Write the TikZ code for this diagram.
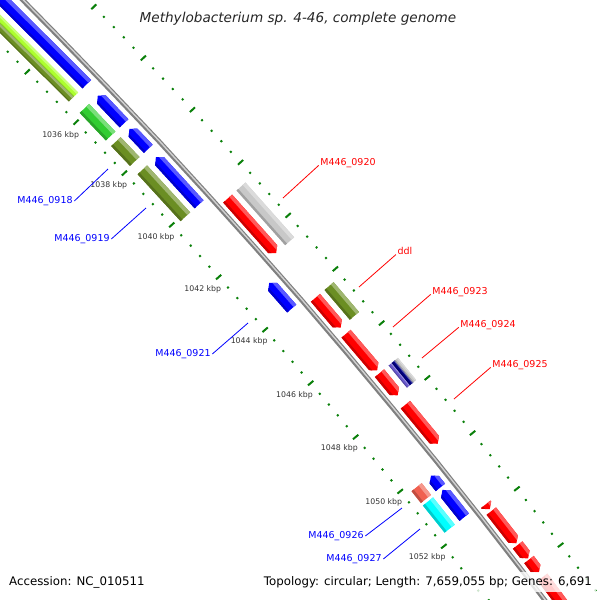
\documentclass[tikz,border=0pt]{standalone}
\usepackage{fontspec}
\setmainfont{DejaVu Sans}
\definecolor{cdsblue}{RGB}{0,0,255}
\definecolor{cdsred}{RGB}{255,0,0}
\definecolor{coglime}{RGB}{173,255,47}
\definecolor{cogolive}{RGB}{107,142,35}
\definecolor{coggreen}{RGB}{50,205,50}
\definecolor{coggray}{RGB}{200,200,200}
\definecolor{cognavy}{RGB}{0,0,128}
\definecolor{cogslate}{RGB}{106,90,205}
\definecolor{cogsalmon}{RGB}{240,96,80}
\definecolor{cogcyan}{RGB}{0,255,255}
\definecolor{tickgreen}{RGB}{10,128,10}
\definecolor{kbpgray}{RGB}{51,51,51}
\pgfmathdeclarefunction{kang}{1}{\pgfmathparse{-44.34+0.341*(#1-1034)}}
\tikzset{
	tickmark/.style={tickgreen, line width=2pt},
	backbone/.style={line width=4.8pt, gray},
	kbplabel/.style={text=kbpgray, font=\fontsize{7.8}{9}\selectfont, inner sep=0pt},
	revlabel/.style={text=cdsblue, font=\fontsize{9.5}{11}\selectfont, inner sep=1.5pt},
	fwdlabel/.style={text=cdsred, font=\fontsize{9.5}{11}\selectfont, inner sep=1.5pt},
	revline/.style={cdsblue, line width=0.8pt},
	fwdline/.style={cdsred, line width=0.8pt},
	infobox/.style={fill=white, fill opacity=0.8, text opacity=1, inner sep=4pt, font=\fontsize{11.8}{14}\selectfont}
}
\begin{document}
\begin{tikzpicture}[x=1pt, y=-1pt]
	\useasboundingbox (0,0) rectangle (600,600);
	\clip (0,0) rectangle (600,600);
	\begin{scope}[shift={(-4190,4193)}]
		% tick rings
		\foreach \i in {0,...,70}
		{
			\pgfmathsetmacro\k{1030+0.4*\i}
			\pgfmathtruncatemacro\m{mod(\i,5)}
			\ifnum\m=0 \def\tl{3.5}\else\def\tl{1}\fi
			\foreach \r in {5897,5990}
				\draw[tickmark] ({kang(\k)}:{\r-\tl}) -- ({kang(\k)}:{\r+\tl});
		}
		\foreach \k in {1036,1038,...,1052}
			\node[kbplabel] (kb\k) at ({kang(\k-0.04)}:5877) {\k\ kbp};
		% backbone
		\draw[backbone] plot[domain=1030:1058, samples=15, variable=\k] ({kang(\k)}:5944);
		\draw[line width=1.4pt, gray!35] plot[domain=1030:1058, samples=15, variable=\k] ({kang(\k)}:5944.5);
		% genes
		\foreach \ka/\kb/\ra/\rb/\dir/\col in {1028/1035.43/5925/5937/-1/cdsblue, 1035.88/1036.96/5925/5937/-1/cdsblue, 1037.18/1037.96/5925/5937/-1/cdsblue, 1038.28/1040.09/5925/5937/-1/cdsblue, 1043.07/1044.04/5925/5937/-1/cdsblue, 1050.2/1050.63/5925/5937/-1/cdsblue, 1050.72/1051.71/5925/5937/-1/cdsblue,
			1028/1035.43/5912.5/5919/0/coglime, 1028/1035.43/5906/5912.5/0/cogolive, 1035.88/1036.96/5906/5919/0/coggreen, 1037.18/1037.96/5906/5919/0/cogolive, 1038.28/1040.09/5906/5919/0/cogolive, 1050.2/1050.63/5906/5919/0/cogsalmon, 1050.72/1051.71/5906/5919/0/cogcyan,
			1040.51/1042.57/5950/5962/1/cdsred, 1044.25/1045.35/5950/5962/1/cdsred, 1045.58/1046.94/5950/5962/1/cdsred, 1047.04/1047.85/5950/5962/1/cdsred, 1048.19/1049.62/5950/5962/1/cdsred, 1051.8/1051.98/5950/5962/1/cdsred, 1052.05/1053.2/5950/5962/1/cdsred, 1053.26/1053.74/5950/5962/1/cdsred, 1053.78/1054.24/5950/5962/1/cdsred, 1054.41/1058/5950/5962/1/cdsred,
			1040.51/1042.57/5968/5980/0/coggray, 1044.25/1045.35/5968/5980/0/cogolive, 1047.04/1047.85/5968/5972/0/cogslate, 1047.04/1047.85/5972/5976/0/cognavy, 1047.04/1047.85/5976/5980/0/coggray}
		{
			\pgfmathsetmacro\rmid{(\ra+\rb)/2}
			\pgfmathsetmacro\hh{min(0.15,\kb-\ka)}
			\pgfmathsetmacro\rs{\rb-0.3*(\rb-\ra)}
			\pgfmathsetmacro\rd{\ra+0.2*(\rb-\ra)}
			\ifnum\dir=1
				\def\fshape{({kang(\ka)}:\ra) -- ({kang(\ka)}:\rb) -- ({kang(\kb-\hh)}:\rb) -- ({kang(\kb)}:\rmid) -- ({kang(\kb-\hh)}:\ra) -- cycle}
			\else\ifnum\dir=-1
				\def\fshape{({kang(\kb)}:\ra) -- ({kang(\kb)}:\rb) -- ({kang(\ka+\hh)}:\rb) -- ({kang(\ka)}:\rmid) -- ({kang(\ka+\hh)}:\ra) -- cycle}
			\else
				\def\fshape{({kang(\ka)}:\ra) -- ({kang(\ka)}:\rb) -- ({kang(\kb)}:\rb) -- ({kang(\kb)}:\ra) -- cycle}
			\fi\fi
			\fill[\col] \fshape;
			\begin{scope}
				\clip \fshape;
				\fill[\col!65!white] ({kang(\ka-0.2)}:\rs) -- ({kang(\kb+0.2)}:\rs) -- ({kang(\kb+0.2)}:{\rb+1}) -- ({kang(\ka-0.2)}:{\rb+1}) -- cycle;
				\fill[\col!80!black] ({kang(\ka-0.2)}:{\ra-1}) -- ({kang(\kb+0.2)}:{\ra-1}) -- ({kang(\kb+0.2)}:\rd) -- ({kang(\ka-0.2)}:\rd) -- cycle;
			\end{scope}
		}
	\end{scope}
	% labels
	\node[revlabel] (l0918) at (45,201) {M446\_0918};
	\node[revlabel] (l0919) at (82,239) {M446\_0919};
	\node[revlabel] (l0921) at (183,354) {M446\_0921};
	\node[revlabel] (l0926) at (336,536) {M446\_0926};
	\node[revlabel] (l0927) at (354,559) {M446\_0927};
	\node[fwdlabel] (l0920) at (348,163) {M446\_0920};
	\node[fwdlabel] (lddl) at (405,251) {ddl};
	\node[fwdlabel] (l0923) at (460,292) {M446\_0923};
	\node[fwdlabel] (l0924) at (488,325) {M446\_0924};
	\node[fwdlabel] (l0925) at (520,365) {M446\_0925};
	\coordinate (p0918) at (108,169);
	\coordinate (p0919) at (146,208);
	\coordinate (p0921) at (248,323);
	\coordinate (p0926) at (402,508);
	\coordinate (p0927) at (420,529);
	\coordinate (p0920) at (283,198);
	\coordinate (pddl) at (359,287);
	\coordinate (p0923) at (393,327);
	\coordinate (p0924) at (422,358);
	\coordinate (p0925) at (454,399);
	\draw[revline] (l0918.east) -- (p0918);
	\draw[revline] (l0919.east) -- (p0919);
	\draw[revline] (l0921.east) -- (p0921);
	\draw[revline] (l0926.east) -- (p0926);
	\draw[revline] (l0927.east) -- (p0927);
	\draw[fwdline] (l0920.base west) -- (p0920);
	\draw[fwdline] (lddl.base west) -- (pddl);
	\draw[fwdline] (l0923.base west) -- (p0923);
	\draw[fwdline] (l0924.base west) -- (p0924);
	\draw[fwdline] (l0925.base west) -- (p0925);
	% title and legend
	\node[infobox, font=\fontsize{13.6}{16}\selectfont\itshape, text=black!85] (title) at (298,19) {Methylobacterium sp. 4-46, complete genome};
	\node[infobox, anchor=west] (acc) at (5,582) {Accession: NC\_010511};
	\node[infobox, anchor=east] (topo) at (596,582) {Topology: circular; Length: 7,659,055 bp; Genes: 6,691};
\end{tikzpicture}
\end{document}
